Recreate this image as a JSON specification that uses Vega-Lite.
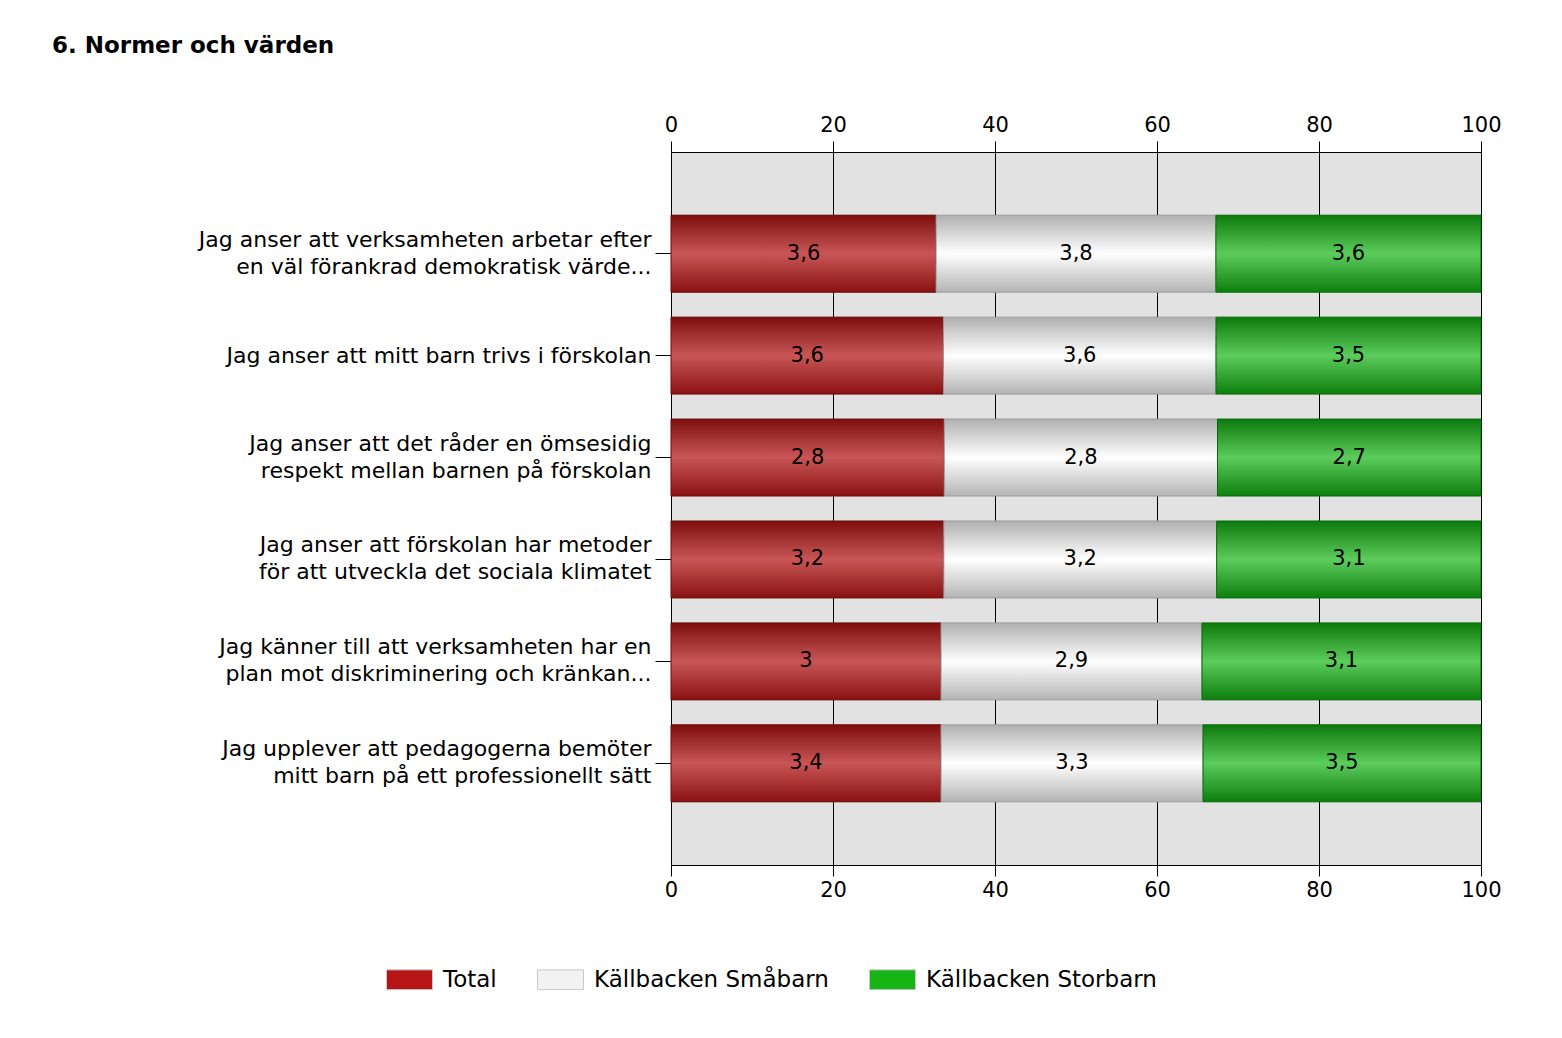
{
  "$schema": "https://vega.github.io/schema/vega-lite/v6.json",
  "autosize": "none",
  "width": 810,
  "height": 713,
  "padding": {"left": 671, "top": 152, "right": 81, "bottom": 173},
  "background": "white",
  "title": {
    "text": "6. Normer och värden",
    "anchor": "start",
    "frame": "group",
    "dx": -619,
    "offset": 56,
    "font": "DejaVu Sans",
    "fontSize": 23,
    "fontWeight": "bold",
    "color": "#000000"
  },
  "data": {
    "values": [
      {"question": "Jag anser att verksamheten arbetar efter|en väl förankrad demokratisk värde...", "series": "Total", "order": 1, "value": 3.6},
      {"question": "Jag anser att verksamheten arbetar efter|en väl förankrad demokratisk värde...", "series": "Källbacken Småbarn", "order": 2, "value": 3.8},
      {"question": "Jag anser att verksamheten arbetar efter|en väl förankrad demokratisk värde...", "series": "Källbacken Storbarn", "order": 3, "value": 3.6},
      {"question": "Jag anser att mitt barn trivs i förskolan", "series": "Total", "order": 1, "value": 3.6},
      {"question": "Jag anser att mitt barn trivs i förskolan", "series": "Källbacken Småbarn", "order": 2, "value": 3.6},
      {"question": "Jag anser att mitt barn trivs i förskolan", "series": "Källbacken Storbarn", "order": 3, "value": 3.5},
      {"question": "Jag anser att det råder en ömsesidig|respekt mellan barnen på förskolan", "series": "Total", "order": 1, "value": 2.8},
      {"question": "Jag anser att det råder en ömsesidig|respekt mellan barnen på förskolan", "series": "Källbacken Småbarn", "order": 2, "value": 2.8},
      {"question": "Jag anser att det råder en ömsesidig|respekt mellan barnen på förskolan", "series": "Källbacken Storbarn", "order": 3, "value": 2.7},
      {"question": "Jag anser att förskolan har metoder|för att utveckla det sociala klimatet", "series": "Total", "order": 1, "value": 3.2},
      {"question": "Jag anser att förskolan har metoder|för att utveckla det sociala klimatet", "series": "Källbacken Småbarn", "order": 2, "value": 3.2},
      {"question": "Jag anser att förskolan har metoder|för att utveckla det sociala klimatet", "series": "Källbacken Storbarn", "order": 3, "value": 3.1},
      {"question": "Jag känner till att verksamheten har en|plan mot diskriminering och kränkan...", "series": "Total", "order": 1, "value": 3.0},
      {"question": "Jag känner till att verksamheten har en|plan mot diskriminering och kränkan...", "series": "Källbacken Småbarn", "order": 2, "value": 2.9},
      {"question": "Jag känner till att verksamheten har en|plan mot diskriminering och kränkan...", "series": "Källbacken Storbarn", "order": 3, "value": 3.1},
      {"question": "Jag upplever att pedagogerna bemöter|mitt barn på ett professionellt sätt", "series": "Total", "order": 1, "value": 3.4},
      {"question": "Jag upplever att pedagogerna bemöter|mitt barn på ett professionellt sätt", "series": "Källbacken Småbarn", "order": 2, "value": 3.3},
      {"question": "Jag upplever att pedagogerna bemöter|mitt barn på ett professionellt sätt", "series": "Källbacken Storbarn", "order": 3, "value": 3.5}
    ]
  },
  "transform": [
    {"stack": "value", "groupby": ["question"], "sort": [{"field": "order"}], "offset": "normalize", "as": ["x0", "x1"]},
    {"calculate": "(datum.x0 + datum.x1) / 2", "as": "xmid"}
  ],
  "encoding": {
    "y": {
      "field": "question",
      "type": "nominal",
      "sort": null,
      "title": null,
      "scale": {"paddingInner": 0.245, "paddingOuter": 0.62},
      "axis": {
        "orient": "left",
        "domain": false,
        "ticks": true,
        "tickSize": 16,
        "tickColor": "#000000",
        "labelPadding": 4,
        "labelFont": "DejaVu Sans",
        "labelFontSize": 22,
        "labelColor": "#000000",
        "labelLineHeight": 27,
        "labelAlign": "right",
        "labelBaseline": "middle",
        "labelLimit": 700,
        "labelOffset": {"condition": {"test": "indexof(datum.label, '|') >= 0", "value": -14}, "value": 0},
        "labelExpr": "split(datum.label, '|')"
      }
    }
  },
  "layer": [
    {
      "mark": {"type": "bar"},
      "encoding": {
        "x": {
          "field": "x0",
          "type": "quantitative",
          "scale": {"domain": [0, 1], "nice": false},
          "title": null,
          "axis": {
            "orient": "top",
            "values": [0, 0.2, 0.4, 0.6, 0.8, 1],
            "labelExpr": "format(datum.value * 100, 'd')",
            "grid": true,
            "gridColor": "#000000",
            "gridOpacity": 1,
            "gridWidth": 1,
            "domain": true,
            "domainColor": "#000000",
            "tickColor": "#000000",
            "tickSize": 11,
            "labelPadding": 6,
            "labelFont": "DejaVu Sans",
            "labelFontSize": 21,
            "labelColor": "#000000",
            "labelFlush": false
          }
        },
        "x2": {"field": "x1"},
        "color": {
          "field": "series",
          "type": "nominal",
          "sort": ["Total", "Källbacken Småbarn", "Källbacken Storbarn"],
          "scale": {"domain": ["Total", "Källbacken Småbarn", "Källbacken Storbarn"], "range": ["#b51515", "#f2f2f2", "#15b515"]},
          "legend": {
            "title": null,
            "orient": "none",
            "legendX": -285,
            "legendY": 804,
            "direction": "horizontal",
            "symbolType": "M-1,-0.43L1,-0.43L1,0.43L-1,0.43Z",
            "symbolSize": 2116,
            "symbolStrokeColor": "#c8c8c8",
            "symbolStrokeWidth": 1,
            "symbolOpacity": 1,
            "labelOffset": 10,
            "columnPadding": 38,
            "labelFont": "DejaVu Sans",
            "labelFontSize": 23,
            "labelColor": "#000000",
            "labelLimit": 400
          }
        }
      }
    },
    {
      "transform": [{"filter": "datum.series === 'Total'"}],
      "mark": {
        "type": "bar",
        "stroke": "#6a0c0c",
        "strokeWidth": 1,
        "color": {
          "gradient": "linear", "x1": 0, "y1": 0, "x2": 0, "y2": 1,
          "stops": [
            {"offset": 0, "color": "#7e0e0e"},
            {"offset": 0.5, "color": "#c85656"},
            {"offset": 1, "color": "#8a1111"}
          ]
        }
      },
      "encoding": {
        "x": {"field": "x0", "type": "quantitative", "axis": null},
        "x2": {"field": "x1"}
      }
    },
    {
      "transform": [{"filter": "datum.series === 'Källbacken Småbarn'"}],
      "mark": {
        "type": "bar",
        "stroke": "#9a9a9a",
        "strokeWidth": 1,
        "color": {
          "gradient": "linear", "x1": 0, "y1": 0, "x2": 0, "y2": 1,
          "stops": [
            {"offset": 0, "color": "#b0b0b0"},
            {"offset": 0.5, "color": "#ffffff"},
            {"offset": 1, "color": "#b4b4b4"}
          ]
        }
      },
      "encoding": {
        "x": {"field": "x0", "type": "quantitative", "axis": null},
        "x2": {"field": "x1"}
      }
    },
    {
      "transform": [{"filter": "datum.series === 'Källbacken Storbarn'"}],
      "mark": {
        "type": "bar",
        "stroke": "#0a6a0a",
        "strokeWidth": 1,
        "color": {
          "gradient": "linear", "x1": 0, "y1": 0, "x2": 0, "y2": 1,
          "stops": [
            {"offset": 0, "color": "#0c7a0c"},
            {"offset": 0.5, "color": "#5ccc5c"},
            {"offset": 1, "color": "#0d7f0d"}
          ]
        }
      },
      "encoding": {
        "x": {"field": "x0", "type": "quantitative", "axis": null},
        "x2": {"field": "x1"}
      }
    },
    {
      "mark": {"type": "text", "font": "DejaVu Sans", "fontSize": 21, "color": "#000000", "align": "center", "baseline": "middle"},
      "encoding": {
        "x": {
          "field": "xmid",
          "type": "quantitative",
          "title": null,
          "axis": {
            "orient": "bottom",
            "values": [0, 0.2, 0.4, 0.6, 0.8, 1],
            "labelExpr": "format(datum.value * 100, 'd')",
            "grid": false,
            "domain": true,
            "domainColor": "#000000",
            "tickColor": "#000000",
            "tickSize": 11,
            "labelPadding": 3,
            "labelFont": "DejaVu Sans",
            "labelFontSize": 21,
            "labelColor": "#000000",
            "labelFlush": false
          }
        },
        "text": {"field": "value", "type": "quantitative", "format": ".1~f"}
      }
    }
  ],
  "config": {
    "locale": {"number": {"decimal": ",", "thousands": " ", "grouping": [3], "currency": ["", " kr"]}},
    "view": {"fill": "#e2e2e2", "stroke": null}
  }
}
